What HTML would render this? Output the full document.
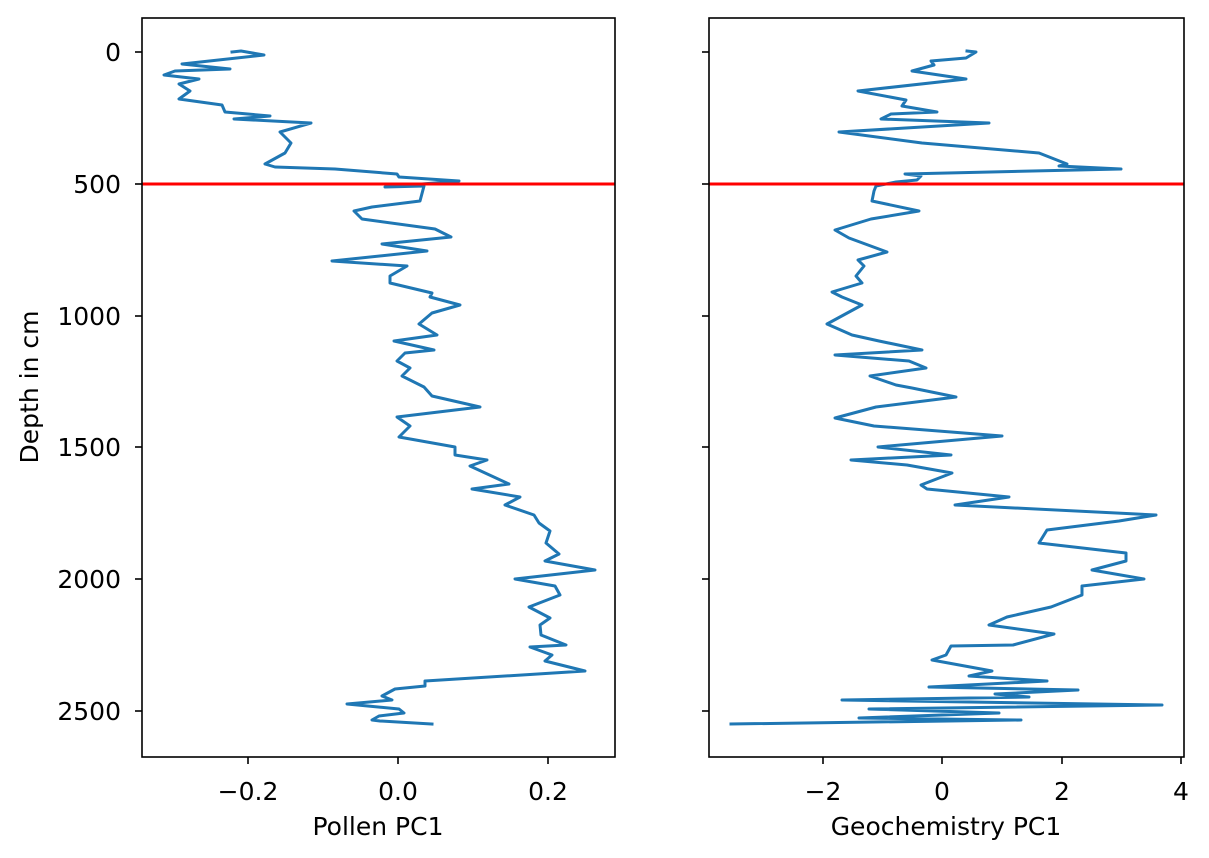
<!DOCTYPE html>
<html><head><meta charset="utf-8"><style>
html,body{margin:0;padding:0;background:#fff;}
svg{display:block;}
text{font-family:"DejaVu Sans","Liberation Sans",sans-serif;font-size:25px;fill:#000;}
</style></head><body>
<svg width="1209" height="858" viewBox="0 0 1209 858" xmlns="http://www.w3.org/2000/svg">
<rect width="1209" height="858" fill="#fff"/>
<polyline fill="none" stroke="#1f77b4" stroke-width="3" stroke-linejoin="round" stroke-linecap="square" points="232,52 241,51 264,55 182,64 230,69 175,71 164,75 199,79 179,84 190,91 179,99 222,105 225,112 270,116 234,119 311,123 280,132 291,143 285,153 265,164 275,167 335,169 397,174 399,177 459,181 385,187 424,186 420,201 372,207 354,211 362,219 435,229 451,237 382,244 427,251 332,261 407,266 390,276 390,283 432,293 430,297 460,305 432,313 419,324 437,335 394,341 434,350 405,353 397,361 410,368 402,376 424,387 432,396 480,407 397,417 410,426 399,437 455,447 455,455 487,460 470,466 509,484 472,489 520,497 505,505 534,515 539,523 550,531 546,543 559,554 545,561 595,570 515,579 555,586 560,595 529,607 550,618 540,625 541,635 566,645 530,647 552,655 545,661 585,671 522,675 425,681 425,686 395,689 382,696 392,700 347,704 399,709 404,713 379,716 372,720 380,721 432,724"/>
<polyline fill="none" stroke="#1f77b4" stroke-width="3" stroke-linejoin="round" stroke-linecap="square" points="967,51 976,52 966,58 931,61 934,65 912,71 966,79 858,91 906,100 902,106 937,112 891,114 881,119 989,123 839,132 922,143 1039,153 1067,164 1059,166 1121,169 905,174 921,176 917,180 896,182 876,186 874,191 872,201 919,211 871,219 835,230 849,238 887,252 858,260 864,266 856,276 862,283 832,292 842,297 862,305 827,324 852,335 879,341 922,350 835,355 909,361 926,368 870,376 896,385 912,388 956,397 876,407 835,418 874,426 1002,436 878,447 951,455 851,460 907,465 952,473 921,485 927,489 1009,497 955,505 1156,515 1119,521 1047,530 1039,543 1126,553 1126,561 1092,570 1144,579 1082,586 1082,595 1051,607 1007,617 989,625 1054,634 1013,645 951,646 946,655 932,660 992,671 969,676 1047,681 929,687 1078,690 995,694 1029,697 842,700 1162,705 869,709 999,713 859,718 1021,720 731,724"/>
<line x1="142" y1="184" x2="615" y2="184" stroke="#ff0000" stroke-width="3"/>
<line x1="709" y1="184" x2="1184" y2="184" stroke="#ff0000" stroke-width="3"/>
<rect x="142" y="18" width="473" height="739" fill="none" stroke="#000" stroke-width="1.6"/>
<rect x="709" y="18" width="475" height="739" fill="none" stroke="#000" stroke-width="1.6"/>
<g stroke="#000" stroke-width="1.6">
<line x1="135" y1="52" x2="142" y2="52"/><line x1="135" y1="184" x2="142" y2="184"/><line x1="135" y1="316" x2="142" y2="316"/><line x1="135" y1="447" x2="142" y2="447"/><line x1="135" y1="579" x2="142" y2="579"/><line x1="135" y1="711" x2="142" y2="711"/>
<line x1="702" y1="52" x2="709" y2="52"/><line x1="702" y1="184" x2="709" y2="184"/><line x1="702" y1="316" x2="709" y2="316"/><line x1="702" y1="447" x2="709" y2="447"/><line x1="702" y1="579" x2="709" y2="579"/><line x1="702" y1="711" x2="709" y2="711"/>
<line x1="248" y1="757" x2="248" y2="764"/><line x1="398" y1="757" x2="398" y2="764"/><line x1="548" y1="757" x2="548" y2="764"/>
<line x1="823" y1="757" x2="823" y2="764"/><line x1="942" y1="757" x2="942" y2="764"/><line x1="1062" y1="757" x2="1062" y2="764"/><line x1="1181" y1="757" x2="1181" y2="764"/>
</g>
<g text-anchor="end">
<text x="121" y="61">0</text><text x="121" y="193">500</text><text x="121" y="325">1000</text><text x="121" y="456">1500</text><text x="121" y="588">2000</text><text x="121" y="720">2500</text>
</g>
<g text-anchor="middle">
<text x="248" y="800">−0.2</text><text x="398" y="800">0.0</text><text x="548" y="800">0.2</text>
<text x="823" y="800">−2</text><text x="942" y="800">0</text><text x="1062" y="800">2</text><text x="1181" y="800">4</text>
<text x="378" y="835">Pollen PC1</text>
<text x="946" y="835">Geochemistry PC1</text>
<text transform="translate(38,387) rotate(-90)">Depth in cm</text>
</g>
</svg>
</body></html>
